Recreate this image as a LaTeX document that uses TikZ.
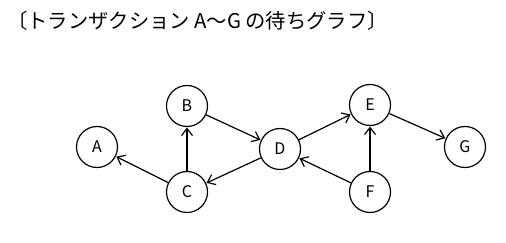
\documentclass[tikz,border=0pt]{standalone}
\usepackage{fontspec}
\setmainfont{Noto Sans CJK JP}
\usetikzlibrary{arrows.meta}

\tikzset{
    txn/.style={draw, circle, line width=1.2pt, minimum size=41pt, inner sep=0pt, font=\fontsize{16}{16}\selectfont},
    waits/.style={line width=1.2pt, -{Straight Barb[length=7pt, width=11pt]}, shorten >=0.5pt}
}

\begin{document}
\begin{tikzpicture}[x=1pt, y=1pt]

    % Canvas with the reference proportions
    \useasboundingbox (0,0) rectangle (506,243);

    % Title line
    \node[anchor=west, inner sep=0pt, font=\fontsize{20.3}{20.3}\selectfont] (title) at (7,222)
        {〔トランザクション A～G の待ちグラフ〕};

    % Transactions (circles)
    \node[txn] (A) at (97,96) {A};
    \node[txn] (B) at (187,137) {B};
    \node[txn] (C) at (187,51) {C};
    \node[txn] (D) at (280,94) {D};
    \node[txn] (E) at (370,138) {E};
    \node[txn] (F) at (370,51) {F};
    \node[txn] (G) at (465,96) {G};

    % Wait-for edges
    \draw[waits] (C) -- (A);
    \draw[waits] (C) -- (B);
    \draw[waits] (B) -- (D);
    \draw[waits] (D) -- (C);
    \draw[waits] (D) -- (E);
    \draw[waits] (F) -- (D);
    \draw[waits] (F) -- (E);
    \draw[waits] (E) -- (G);

\end{tikzpicture}
\end{document}
